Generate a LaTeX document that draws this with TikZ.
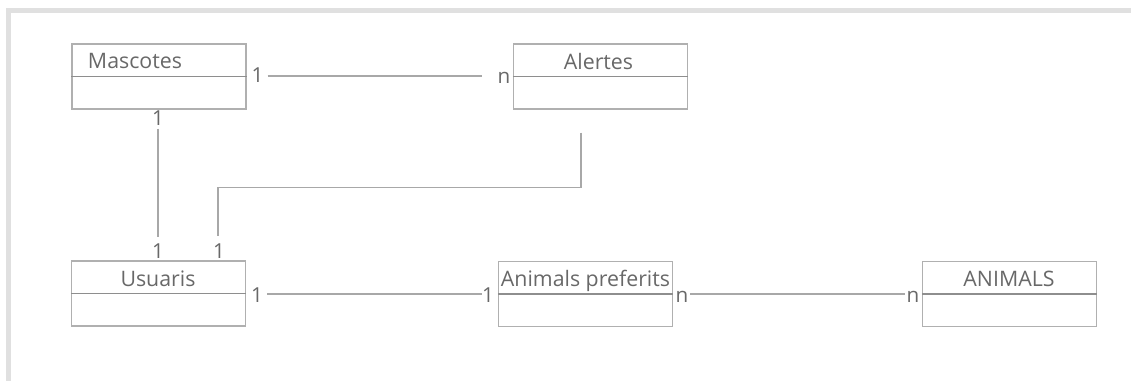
\documentclass[tikz,border=0pt]{standalone}
\usepackage{fontspec}
\setmainfont{Open Sans}
\usetikzlibrary{calc}
\definecolor{framegray}{HTML}{E0E0E0}
\definecolor{boxgray}{HTML}{B0B0B0}
\definecolor{divgray}{HTML}{8E8E8E}
\definecolor{linegray}{HTML}{A8A8A8}
\definecolor{textgray}{HTML}{686868}
\tikzset{
  ebox/.style={draw=boxgray, line width=0.9pt, minimum width=130.5pt, minimum height=48.75pt, inner sep=0pt},
  divider/.style={draw=divgray, line width=1.2pt},
  title/.style={anchor=base, inner sep=0pt, text=textgray, font=\fontsize{16}{19}\selectfont},
  card/.style={anchor=base, inner sep=0pt, text=textgray, font=\fontsize{15.5}{18}\selectfont},
  conn/.style={draw=linegray, line width=0.8pt},
}
\begin{document}
\begin{tikzpicture}[x=0.75pt,y=-0.75pt]
\useasboundingbox (0,0) rectangle (1131,381);
% frame
\fill[framegray] (6,8) rectangle (1131,13);
\fill[framegray] (6,8) rectangle (11,381);
% entity boxes
\node[ebox] (mas) at (159,76.5) {};
\node[ebox] (ale) at (600.5,76.5) {};
\node[ebox] (usu) at (158.5,293.5) {};
\node[ebox] (ap) at (585.5,294) {};
\node[ebox] (ani) at (1009.5,294) {};
\foreach \b in {mas,ale,usu,ap,ani}{\draw[divider] (\b.west) -- (\b.east);}
% titles
\node[title] (tmas) at (135,69) {Mascotes};
\node[title] (tale) at (598.5,70) {Alertes};
\node[title] (tusu) at (158,286) {Usuaris};
\node[title] (tap) at (585.5,286) {Animals preferits};
\node[title] (tani) at (1009,286) {ANIMALS};
% connectors
\draw[conn] ($(mas.east)+(21,-0.5)$) -- ($(ale.west)+(-31,-0.5)$);
\draw[conn] ($(mas.south)+(-1,19)$) -- ($(usu.north)+(-0.5,-23)$);
\draw[conn] ($(ale.south)+(-19.5,23)$) -- ++(0,55) -| ($(usu.north)+(59.5,-24)$);
\draw[conn] ($(usu.east)+(21,0.5)$) -- ($(ap.west)+(-16,0)$);
\draw[conn] ($(ap.east)+(17,0)$) -- ($(ani.west)+(-17,0)$);
% cardinalities
\node[card] (c1) at (257.5,83) {1};
\node[card] (c2) at (504,84) {n};
\node[card] (c3) at (158,126) {1};
\node[card] (c4) at (158,258) {1};
\node[card] (c5) at (219,258) {1};
\node[card] (c6) at (257,302) {1};
\node[card] (c7) at (488,302) {1};
\node[card] (c8) at (682,302) {n};
\node[card] (c9) at (913,302) {n};
\end{tikzpicture}
\end{document}
